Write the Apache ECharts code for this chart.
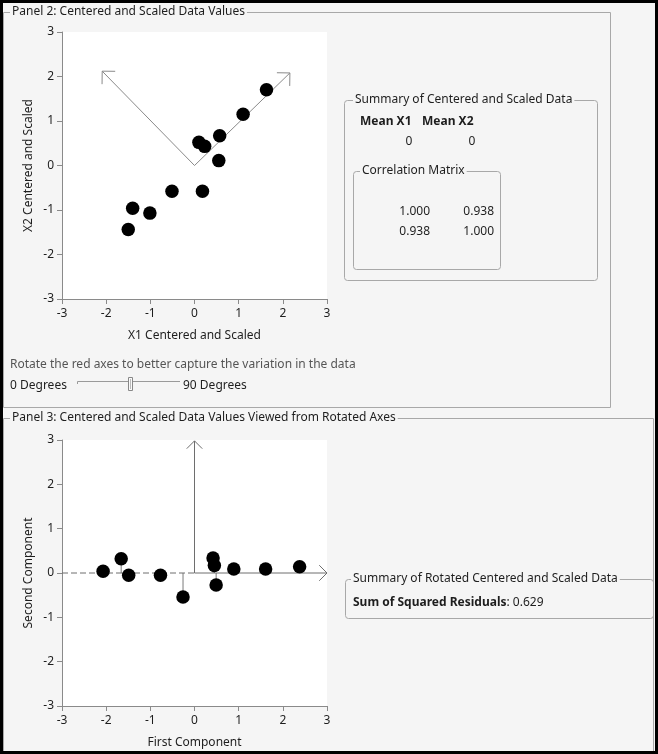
<!DOCTYPE html>
<html><head><meta charset="utf-8">
<script src="https://cdn.jsdelivr.net/npm/echarts@6/dist/echarts.min.js"></script>
<style>html,body{margin:0;padding:0;background:#f5f5f5}#c{width:658px;height:754px}</style>
</head><body><div id="c"></div>
<script>
// ---- data ----
const topX = [1.63, 1.10, 0.57, 0.10, 0.23, 0.55, 0.18, -0.51, -1.01, -1.40, -1.50];
const topY = [1.70, 1.15, 0.67, 0.52, 0.43, 0.11, -0.58, -0.58, -1.07, -0.96, -1.44];
const rotFirst = [-2.07, -1.66, -1.49, -0.77, -0.26, 0.42, 0.45, 0.49, 0.89, 1.61, 2.38];
const rotSecond = [0.04, 0.32, -0.05, -0.05, -0.54, 0.34, 0.17, -0.27, 0.09, 0.09, 0.14];
const axisMin = -3, axisMax = 3, axisStep = 1;
// rotated-axis arrows: [fromX, fromY, toX, toY]
const topArrows = [[0, 0, 2.16, 2.08], [0, 0, -2.09, 2.12]];
const bottomArrows = [[0, 0, 3, 0], [0, 0, 0, 2.98]];
const bottomDashed = [[-3, 0, 0, 0]];
const meanValues = ['0', '0'];
const corrMatrix = [['1.000', '0.938'], ['0.938', '1.000']];
const sumSqResid = '0.629';

const FONT = 'Noto Sans';
const TXT = '#1e1e1e';
const BG = '#f5f5f5';
const BOX = '#a8a8a8';

function arrowRender(headLen, dashed, color) {
  return function (params, api) {
    const p0 = api.coord([api.value(0), api.value(1)]);
    const p1 = api.coord([api.value(2), api.value(3)]);
    const children = [{
      type: 'line', shape: {x1: p0[0], y1: p0[1], x2: p1[0], y2: p1[1]},
      style: {stroke: color, lineWidth: 1, lineDash: dashed ? [6, 3] : null}
    }];
    if (headLen > 0) {
      const ang = Math.atan2(p0[1] - p1[1], p0[0] - p1[0]);
      const a1 = ang + Math.PI / 4, a2 = ang - Math.PI / 4;
      children.push({
        type: 'polyline',
        shape: {points: [
          [p1[0] + headLen * Math.cos(a1), p1[1] + headLen * Math.sin(a1)],
          [p1[0], p1[1]],
          [p1[0] + headLen * Math.cos(a2), p1[1] + headLen * Math.sin(a2)]
        ]},
        style: {stroke: color, lineWidth: 1, fill: null}
      });
    }
    return {type: 'group', children: children};
  };
}

function residRender(params, api) {
  const p0 = api.coord([api.value(0), api.value(1)]);
  const p1 = api.coord([api.value(0), 0]);
  return {type: 'line', shape: {x1: p0[0], y1: p0[1], x2: p1[0], y2: p1[1]},
    style: {stroke: '#7a7a7a', lineWidth: 1}};
}

function mkAxis(gridIndex, name, isY, gap) {
  return {
    type: 'value', gridIndex: gridIndex, min: axisMin, max: axisMax, interval: axisStep,
    name: name, nameLocation: 'middle', nameGap: gap,
    nameTextStyle: {color: TXT, fontFamily: FONT, fontSize: 12},
    axisLine: {show: true, onZero: false, lineStyle: {color: '#8a8a8a', width: 1}},
    axisTick: {show: true, length: 5, lineStyle: {color: '#8a8a8a'}},
    axisLabel: {color: TXT, fontFamily: FONT, fontSize: 12, margin: isY ? 8 : 9},
    splitLine: {show: false}
  };
}

const chart = echarts.init(document.getElementById('c'));
const graphics = [
  // outer frame
  {type: 'rect', shape: {x: 1.5, y: 1.5, width: 655, height: 751}, style: {fill: null, stroke: '#000', lineWidth: 3}, z: 100},
  // panel 2 box
  {type: 'rect', shape: {x: 3.5, y: 12.5, width: 607, height: 395}, style: {fill: null, stroke: BOX, lineWidth: 1}},
  {type: 'text', x: 10, y: 12, style: {text: 'Panel 2: Centered and Scaled Data Values', fontFamily: FONT, fontSize: 12, fill: TXT, verticalAlign: 'middle', backgroundColor: BG, padding: [0, 2]}},
  // panel 3 box
  {type: 'rect', shape: {x: 3.5, y: 418.5, width: 650, height: 400}, style: {fill: null, stroke: BOX, lineWidth: 1}},
  {type: 'text', x: 10, y: 418, style: {text: 'Panel 3: Centered and Scaled Data Values Viewed from Rotated Axes', fontFamily: FONT, fontSize: 12, fill: TXT, verticalAlign: 'middle', backgroundColor: BG, padding: [0, 2]}},
  // summary box 1
  {type: 'rect', shape: {x: 344.5, y: 100.5, width: 253, height: 180, r: 3}, style: {fill: null, stroke: BOX, lineWidth: 1}},
  {type: 'text', x: 353, y: 100, style: {text: 'Summary of Centered and Scaled Data', fontFamily: FONT, fontSize: 12, fill: TXT, verticalAlign: 'middle', backgroundColor: BG, padding: [0, 2]}},
  {type: 'text', x: 360, y: 122, style: {text: 'Mean X1', fontFamily: FONT, fontSize: 12, fontWeight: 'bold', fill: TXT, verticalAlign: 'middle'}},
  {type: 'text', x: 422, y: 122, style: {text: 'Mean X2', fontFamily: FONT, fontSize: 12, fontWeight: 'bold', fill: TXT, verticalAlign: 'middle'}},
  {type: 'text', x: 409, y: 142, style: {text: meanValues[0], fontFamily: FONT, fontSize: 12, fill: TXT, align: 'center', verticalAlign: 'middle'}},
  {type: 'text', x: 472, y: 142, style: {text: meanValues[1], fontFamily: FONT, fontSize: 12, fill: TXT, align: 'center', verticalAlign: 'middle'}},
  {type: 'rect', shape: {x: 353.5, y: 171.5, width: 147, height: 98, r: 3}, style: {fill: null, stroke: BOX, lineWidth: 1}},
  {type: 'text', x: 360, y: 171, style: {text: 'Correlation Matrix', fontFamily: FONT, fontSize: 12, fill: TXT, verticalAlign: 'middle', backgroundColor: BG, padding: [0, 2]}},
  // summary box 2
  {type: 'rect', shape: {x: 345.5, y: 579.5, width: 308, height: 39, r: 3}, style: {fill: null, stroke: BOX, lineWidth: 1}},
  {type: 'text', x: 351, y: 579, style: {text: 'Summary of Rotated Centered and Scaled Data', fontFamily: FONT, fontSize: 12, fill: TXT, verticalAlign: 'middle', backgroundColor: BG, padding: [0, 2]}},
  {type: 'text', x: 353, y: 603, style: {text: '{b|Sum of Squared Residuals}: ' + sumSqResid, fontFamily: FONT, fontSize: 12, fill: TXT, verticalAlign: 'middle', rich: {b: {fontFamily: FONT, fontSize: 12, fontWeight: 'bold', fill: TXT}}}},
  // slider
  {type: 'text', x: 10, y: 365, style: {text: 'Rotate the red axes to better capture the variation in the data', fontFamily: FONT, fontSize: 12, fill: '#555', verticalAlign: 'middle'}},
  {type: 'text', x: 10, y: 386, style: {text: '0 Degrees', fontFamily: FONT, fontSize: 12, fill: TXT, verticalAlign: 'middle'}},
  {type: 'text', x: 183, y: 386, style: {text: '90 Degrees', fontFamily: FONT, fontSize: 12, fill: TXT, verticalAlign: 'middle'}},
  {type: 'polyline', shape: {points: [[77.5, 384], [77.5, 381.5], [180, 381.5]]}, style: {stroke: '#9a9a9a', lineWidth: 1, fill: null}},
  {type: 'rect', shape: {x: 128.5, y: 377.5, width: 4, height: 13}, style: {fill: '#fafafa', stroke: '#888', lineWidth: 1}},
  {type: 'line', shape: {x1: 130.5, y1: 379, x2: 130.5, y2: 389}, style: {stroke: '#bbb', lineWidth: 1}}
];
// correlation matrix cells
corrMatrix.forEach(function (row, i) {
  row.forEach(function (v, j) {
    graphics.push({type: 'text', x: j === 0 ? 430 : 494, y: 212 + i * 20,
      style: {text: v, fontFamily: FONT, fontSize: 12, fill: TXT, align: 'right', verticalAlign: 'middle'}});
  });
});

const dotStyle = {color: '#000', opacity: 1};

chart.setOption({
  backgroundColor: BG,
  animation: false,
  grid: [
    {left: 62, top: 32, width: 265, height: 267, show: true, backgroundColor: '#fff', borderWidth: 0},
    {left: 62, top: 440, width: 265, height: 266, show: true, backgroundColor: '#fff', borderWidth: 0}
  ],
  xAxis: [mkAxis(0, 'X1 Centered and Scaled', false, 31), mkAxis(1, 'First Component', false, 31)],
  yAxis: [mkAxis(0, 'X2 Centered and Scaled', true, 27), mkAxis(1, 'Second Component', true, 27)],
  graphic: graphics,
  series: [
    {type: 'custom', xAxisIndex: 0, yAxisIndex: 0, clip: false, renderItem: arrowRender(13, false, '#8a8a8a'), data: topArrows, z: 2},
    {type: 'scatter', xAxisIndex: 0, yAxisIndex: 0, symbolSize: 13.5, itemStyle: dotStyle,
      data: topX.map(function (x, i) { return [x, topY[i]]; }), z: 3},
    {type: 'custom', xAxisIndex: 1, yAxisIndex: 1, clip: false, renderItem: residRender,
      data: rotFirst.map(function (x, i) { return [x, rotSecond[i]]; }), z: 1},
    {type: 'custom', xAxisIndex: 1, yAxisIndex: 1, clip: false, renderItem: arrowRender(0, true, '#6e6e6e'), data: bottomDashed, z: 2},
    {type: 'custom', xAxisIndex: 1, yAxisIndex: 1, clip: false, renderItem: arrowRender(11, false, '#6e6e6e'), data: bottomArrows, z: 2},
    {type: 'scatter', xAxisIndex: 1, yAxisIndex: 1, symbolSize: 13.5, itemStyle: dotStyle,
      data: rotFirst.map(function (x, i) { return [x, rotSecond[i]]; }), z: 3}
  ]
});
</script></body></html>
